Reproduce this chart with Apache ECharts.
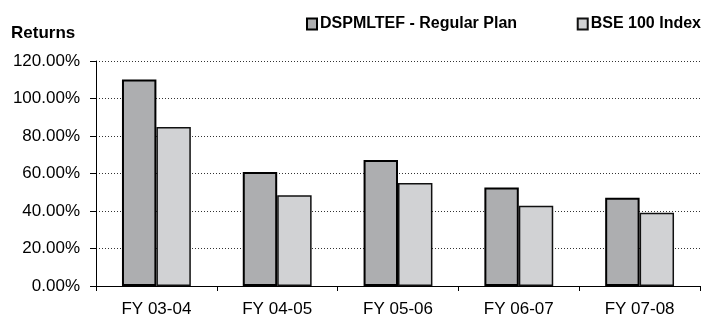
<!DOCTYPE html>
<html>
<head>
<meta charset="utf-8">
<script src="https://cdn.jsdelivr.net/npm/echarts@6/dist/echarts.min.js"></script>
<style>
  html, body { margin: 0; padding: 0; background: #fff; }
  #chart { width: 701px; height: 315px; }
</style>
</head>
<body>
<div id="chart"></div>
<script>
// data
var categories = ['FY 03-04', 'FY 04-05', 'FY 05-06', 'FY 06-07', 'FY 07-08'];
var fundReturns = [110.2, 60.8, 67.2, 52.6, 47.1];
var indexReturns = [84.8, 48.4, 54.9, 42.8, 39.1];
var seriesNames = ['DSPMLTEF - Regular Plan', 'BSE 100 Index'];

var legendText = { fontSize: 16, fontWeight: 'bold', color: '#000', padding: [0, 0, 0, -2] };

var myChart = echarts.init(document.getElementById('chart'));
myChart.setOption({
  animation: false,
  textStyle: { fontFamily: 'Liberation Sans, Arial, sans-serif' },
  title: {
    text: 'Returns',
    left: 6, top: 20,
    textStyle: { fontSize: 17, fontWeight: 'bold', color: '#000' }
  },
  legend: [
    {
      top: 16, left: 306, padding: 0,
      itemWidth: 10, itemHeight: 11, icon: 'rect',
      textStyle: legendText,
      data: [seriesNames[0]]
    },
    {
      top: 16, right: 0, padding: 0,
      itemWidth: 10, itemHeight: 11, icon: 'rect',
      textStyle: legendText,
      data: [seriesNames[1]]
    }
  ],
  grid: { left: 96, right: 1, top: 61, bottom: 29, containLabel: false, outerBoundsMode: 'none' },
  xAxis: {
    type: 'category',
    data: categories,
    axisLine: { lineStyle: { color: '#000', width: 1 } },
    axisTick: { show: true, length: 5, lineStyle: { color: '#000' } },
    axisLabel: { fontSize: 17, color: '#000', margin: 15 }
  },
  yAxis: {
    type: 'value',
    min: 0, max: 120, interval: 20,
    axisLine: { show: true, lineStyle: { color: '#000', width: 1 } },
    axisTick: { show: true, inside: false, length: 6, lineStyle: { color: '#000' } },
    axisLabel: {
      fontSize: 17, color: '#000', margin: 16,
      formatter: function (v) { return v.toFixed(2) + '%'; }
    },
    splitLine: { lineStyle: { color: '#333', type: [1, 2], width: 1 } }
  },
  series: [
    {
      name: seriesNames[0],
      type: 'bar',
      data: fundReturns,
      barGap: '0%',
      barCategoryGap: '43%',
      itemStyle: { color: '#adaeb0', borderColor: '#000', borderWidth: 2 }
    },
    {
      name: seriesNames[1],
      type: 'bar',
      data: indexReturns,
      itemStyle: { color: '#d1d2d4', borderColor: '#111', borderWidth: 1.5 }
    }
  ]
});
</script>
</body>
</html>
